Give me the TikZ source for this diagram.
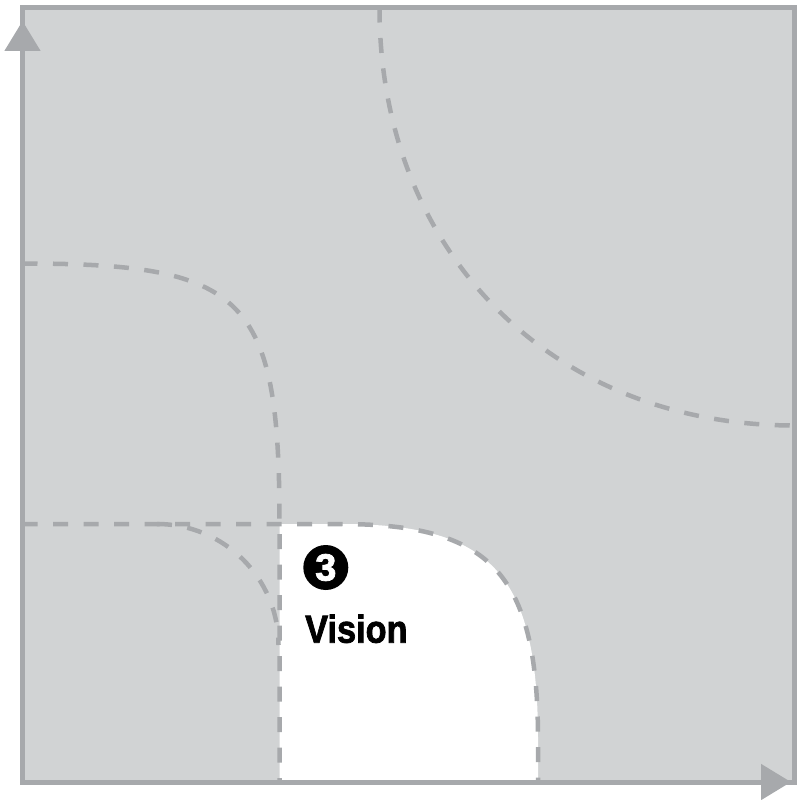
\documentclass[tikz,border=0pt]{standalone}
\usepackage{fontspec}
\setmainfont{Liberation Sans}
\newfontfamily\heavyfont{Liberation Sans Bold}[FakeBold=2]
\usetikzlibrary{arrows.meta}
\definecolor{panel}{HTML}{D1D3D4}
\definecolor{rulegray}{HTML}{A7A9AC}
\tikzset{
  frame/.style={draw=rulegray, line width=5pt},
  axisline/.style={draw=rulegray, line width=5pt, -{Triangle[length=30pt,width=35pt]}},
  zone/.style={draw=rulegray, line width=4.5pt, dash pattern=on 15pt off 15.5pt},
  badge/.style={circle, fill=black, text=white, minimum size=45pt, inner sep=0pt,
    font=\fontsize{38}{38}\heavyfont},
  caption/.style={anchor=base west, inner sep=0pt, font=\fontsize{39}{39}\heavyfont}
}
\begin{document}
\begin{tikzpicture}[x=1pt,y=-1pt]
\useasboundingbox (0,0) rectangle (798,800);
% panel
\fill[panel] (22.5,7.5) rectangle (794.5,782);
% white vision zone
\fill[white] (279.5,782) -- (279.5,524) -- (340,524)
  .. controls (489,524) and (538,571) .. (538,740) -- (538,782) -- cycle;
% dashed zone boundaries
\draw[zone] (379.5,7.5) .. controls (379.5,252) and (552,425.5) .. (794.5,425.5);
\draw[zone] (22.5,263.5) .. controls (246,263.5) and (279.5,296) .. (279.5,524) -- (279.5,782);
\draw[zone] (157,524) .. controls (224,524) and (278.5,578) .. (278.5,645);
\draw[zone] (22.5,524) -- (340,524) .. controls (489,524) and (538,571) .. (538,740) -- (538,782);
% frame
\draw[frame] (22.5,7.5) rectangle (794.5,782);
% axes
\coordinate (O) at (22.5,782);
\coordinate (ytip) at (22.5,21);
\coordinate (xtip) at (791,782);
\draw[axisline] (O) -- (ytip);
\draw[axisline] (O) -- (xtip);
% labels
\node[badge] (num) at (325.8,567.5) {3};
\node[caption] (vision) at (305,642.7) {\scalebox{0.88}[1]{Vision}};
\end{tikzpicture}
\end{document}
